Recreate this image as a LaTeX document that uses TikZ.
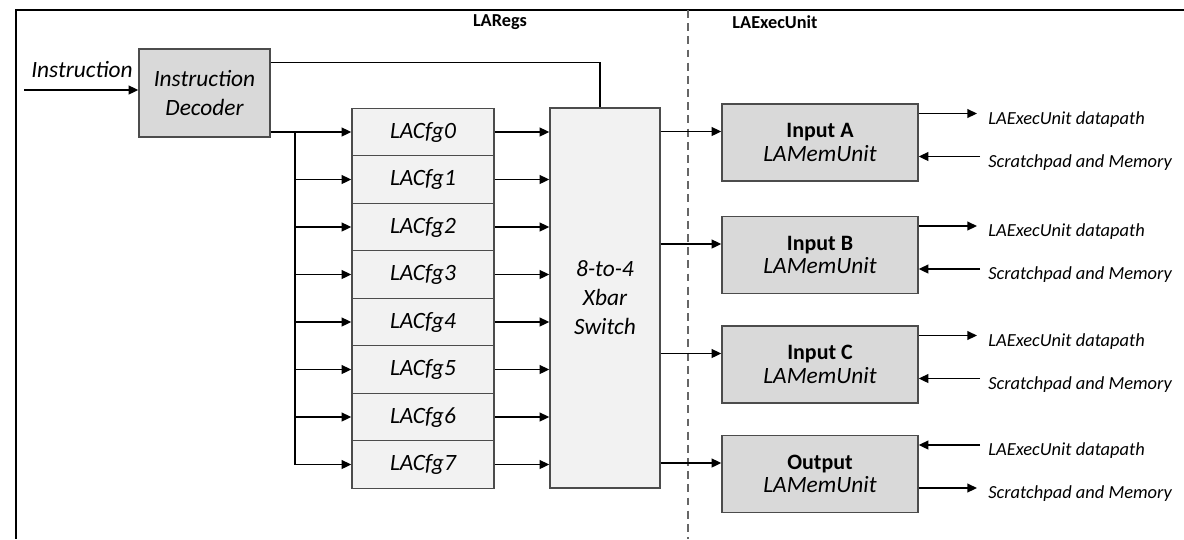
\documentclass[tikz,border=0pt]{standalone}
\usepackage{fontspec}
\setmainfont{Carlito}
\usetikzlibrary{arrows.meta}

\begin{document}
\begin{tikzpicture}[x=0.02cm, y=-0.02cm,
    arr/.style={-{Triangle[length=5.5pt,width=5pt]}, line width=0.9pt},
    dkbox/.style={draw=black!70, line width=0.8pt, fill=black!15},
    ltbox/.style={draw=black!70, line width=0.8pt, fill=black!5},
    itx/.style={font=\fontsize{13.3}{16.5}\selectfont\itshape},
    lbl/.style={font=\fontsize{10.5}{12}\selectfont\itshape, anchor=west, inner sep=0pt},
    hdr/.style={font=\fontsize{10.4}{12}\selectfont\bfseries}]
  \useasboundingbox (0,0) rectangle (1184,539);
  \draw[line width=1.2pt] (1184,10) -- (16,10) -- (16,539);
  \draw[black!60, line width=0.7pt, dash pattern=on 4.5pt off 3pt] (688,10) -- (688,539);
  \node[hdr] (regs) at (500,22) {LARegs};
  \node[hdr] (exec) at (775,22) {LAExecUnit};

  \node[dkbox, itx, align=center, minimum width=2.62cm, minimum height=1.76cm] (dec) at (204.5,93) {Instruction\\Decoder};
  \node[itx, anchor=base] (instr) at (82,77) {Instruction};
  \coordinate (in) at (24,90);
  \draw[arr] (in) -- (in -| dec.west);

  \node[ltbox, itx, align=center, minimum width=2.2cm, minimum height=7.6cm] (sw) at (605,298) {8-to-4\\Xbar\\Switch};
  \draw[line width=0.9pt] ([yshift=-0.28cm]dec.north east) -| ([xshift=-0.1cm]sw.north);

  \foreach \i in {0,...,7}
    \node[ltbox, itx, minimum width=2.84cm, minimum height=0.95cm] (cfg\i) at (423,132+47.5*\i) {LACfg\i};
  \coordinate (bus) at (295,132);
  \draw[line width=0.9pt] (dec.east |- cfg0) -- (bus) -- (bus |- cfg7);
  \foreach \i in {0,...,7} {
    \draw[arr] (bus |- cfg\i) -- (cfg\i.west);
    \draw[arr] (cfg\i.east) -- (cfg\i.east -| sw.west);
  }

  \foreach \u/\t/\y in {A/Input A/141.5, B/Input B/254, C/Input C/363.5, D/Output/473} {
    \node[dkbox, align=center, minimum width=3.92cm, minimum height=1.54cm] (mem\u) at (820,\y+1)
      {{\fontsize{12.5}{16}\selectfont\bfseries \t}\\[1.5pt]{\fontsize{13.3}{16}\selectfont\itshape LAMemUnit}};
    \path ([yshift=0.22cm]mem\u.west) coordinate (in\u);
    \draw[arr] (in\u -| sw.east) -- (in\u);
    \node[lbl] (dp\u) at (988,\y-22) {LAExecUnit datapath};
    \node[lbl] (sp\u) at (988,\y+21) {Scratchpad and Memory};
    \path ([yshift=0.12cm]dp\u.west) coordinate (dpe\u);
    \path ([yshift=0.12cm]sp\u.west) coordinate (spe\u);
  }
  \foreach \u in {A,B,C} {
    \draw[arr] (dpe\u -| mem\u.east) -- ([xshift=-0.22cm]dpe\u);
    \draw[arr] ([xshift=-0.16cm]spe\u) -- (spe\u -| mem\u.east);
  }
  \draw[arr] ([xshift=-0.16cm]dpeD) -- (dpeD -| memD.east);
  \draw[arr] (speD -| memD.east) -- ([xshift=-0.22cm]speD);
\end{tikzpicture}
\end{document}
